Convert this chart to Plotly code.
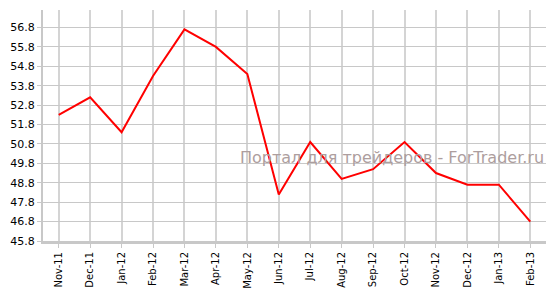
import plotly.graph_objects as go

months = ["Nov-11", "Dec-11", "Jan-12", "Feb-12", "Mar-12", "Apr-12", "May-12", "Jun-12",
          "Jul-12", "Aug-12", "Sep-12", "Oct-12", "Nov-12", "Dec-12", "Jan-13", "Feb-13"]
values = [52.3, 53.2, 51.4, 54.3, 56.7, 55.8, 54.4, 48.2,
          50.9, 49.0, 49.5, 50.9, 49.3, 48.7, 48.7, 46.8]
y_ticks = [45.8, 46.8, 47.8, 48.8, 49.8, 50.8, 51.8, 52.8, 53.8, 54.8, 55.8, 56.8]
watermark = "Портал для трейдеров - ForTrader.ru"

L, R, T, B = 43, 13, 10, 51
W, H = 559, 299
pw = W - L - R
ph = H - T - B

fig = go.Figure()
# watermark drawn beneath the line
fig.add_annotation(text=watermark,
                   x=(392 - L) / pw, y=(H - B - 162) / ph,
                   xref="paper", yref="paper", xanchor="center", yanchor="middle",
                   showarrow=False, font=dict(size=16, color="#ad9e9e",
                   family="DejaVu Sans, Verdana, sans-serif"))
fig.add_trace(go.Scatter(x=list(range(len(months))), y=values, mode="lines",
                         line=dict(color="#ff0000", width=2), hoverinfo="skip"))

fig.update_layout(
    width=W, height=H,
    margin=dict(l=L, r=R, t=T, b=B),
    plot_bgcolor="white", paper_bgcolor="white",
    showlegend=False,
    font=dict(family="DejaVu Sans, Verdana, sans-serif", color="#000000"),
    xaxis=dict(
        tickmode="array", tickvals=list(range(len(months))), ticktext=months,
        range=[-0.5, len(months) - 0.5], tickangle=-90,
        tickfont=dict(size=10), showgrid=True, gridcolor="#d4d4d4", gridwidth=1.5,
        showline=True, linecolor="#c8c8c8", linewidth=3,
        ticks="outside", ticklen=4, tickcolor="#c8c8c8", zeroline=False,
        fixedrange=True,
    ),
    yaxis=dict(
        tickmode="array", tickvals=y_ticks, ticktext=[f"{v:.1f}" for v in y_ticks],
        range=[45.8, 57.7], tickfont=dict(size=11),
        showgrid=True, gridcolor="#c8c8c8", gridwidth=1,
        showline=True, linecolor="#c8c8c8", linewidth=2,
        ticks="outside", ticklen=4, tickcolor="#c8c8c8", zeroline=False,
        fixedrange=True,
    ),
)

fig.write_html("out.html")
